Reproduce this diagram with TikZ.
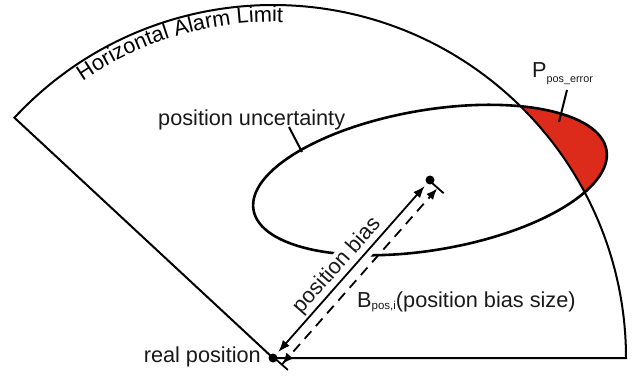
\documentclass[tikz,border=0pt]{standalone}
\usepackage{fontspec}
\setmainfont{Liberation Sans}
\usetikzlibrary{arrows.meta,calc,decorations.text}
\definecolor{errred}{RGB}{220,43,27}
\newcommand{\hafont}{\fontsize{21.7}{26}\selectfont}
\begin{document}
\begin{tikzpicture}[x=1pt,y=1pt,
  sectorline/.style={line width=2pt,line join=miter},
  ellipseline/.style={line width=2.6pt},
  leader/.style={line width=2pt},
  lbl/.style={font=\hafont,inner sep=0pt,text=black!90},
  arr/.style={line width=1.8pt},
  dot/.style={fill=black}
]
\useasboundingbox (0,0) rectangle (642,378);
\coordinate (O) at (273,20);
\coordinate (E) at (430,198);
\coordinate (D) at (430,198);

% red error region: inside ellipse, outside alarm circle
\begin{scope}
  \clip[rotate around={9.6:(E)}] (E) ellipse[x radius=179pt,y radius=70pt];
  \fill[errred,even odd rule] (0,0) rectangle (642,378) (O) circle[radius=353pt];
\end{scope}

% alarm limit sector
\draw[sectorline] (O) -- ($(O)+(137.1:353pt)$) arc[start angle=137.1,end angle=0,radius=353pt] -- cycle;

% position uncertainty ellipse
\draw[ellipseline,rotate around={9.6:(E)}] (E) ellipse[x radius=179pt,y radius=70pt];

% text along arc
\path[decorate,decoration={text along path,text={|\hafont|Horizontal Alarm Limit},text align=left}]
  ($(O)+(124.5:336pt)$) arc[start angle=124.5,end angle=80,radius=336pt];

% labels
\node[lbl,anchor=base west] (pu) at (158,252) {position uncertainty};
\coordinate (pu1) at (289,251);
\coordinate (pu2) at (302,226);
\draw[leader] (pu1) -- (pu2);

\node[lbl,anchor=base west] (perr) at (532,300) {P\raisebox{-5pt}{\fontsize{10.8}{13}\selectfont pos\_error}};
\coordinate (pe1) at (567,288);
\coordinate (pe2) at (559,256);
\draw[leader] (pe1) -- (pe2);

\node[lbl,anchor=base east] (rp) at (261,16) {real position};
\node[lbl,anchor=base west] (bs) at (357,71) {B\raisebox{-2.5pt}{\fontsize{11.5}{13}\selectfont pos,i}(position bias size)};

\node[lbl,rotate=48.6,anchor=base,fill=white,inner sep=1pt,text depth=12pt] (pb)
  at ($(O)!0.471!(D)!7pt!90:(D)$) {position bias};

% arrows
\draw[arr,{Latex[length=12pt,width=9pt]}-{Latex[length=12pt,width=9pt]},shorten <=8pt,shorten >=8pt] (O) -- (D);
\coordinate (Oa) at ($(O)!11pt!-90:(D)$);
\coordinate (Da) at ($(D)!11pt!90:(O)$);
\draw[arr,dash pattern=on 10pt off 7pt,{Bar[width=16pt]Latex[length=11pt,width=9pt]}-{Latex[length=11pt,width=9pt]Bar[width=16pt]}] (Oa) -- (Da);

% dots
\fill[dot] (O) circle[radius=4.5pt];
\fill[dot] (D) circle[radius=4.5pt];
\end{tikzpicture}
\end{document}
